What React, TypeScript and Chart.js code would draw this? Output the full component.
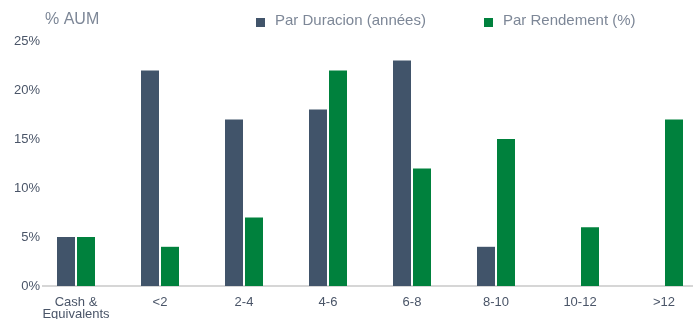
import React, { useEffect, useRef } from "react";
import { Chart, registerables } from "chart.js";

Chart.register(...registerables);

const categories: (string | string[])[] = [["Cash &", "Equivalents"], "<2", "2-4", "4-6", "6-8", "8-10", "10-12", ">12"];
const seriesNames = ["Par Duracion (années)", "Par Rendement (%)"];
const durationValues = [5, 22, 17, 18, 23, 4, 0, 0];
const yieldValues = [5, 4, 7, 22, 12, 15, 6, 17];
const yTickValues = [0, 5, 10, 15, 20, 25];
const axisTitle = "% AUM";
const seriesColors = ["#41546a", "#00813d"];

const FONT = "'Liberation Sans', Arial, Helvetica, sans-serif";
const TICK_COLOR = "#4a5568";
const LABEL_COLOR = "#7d8797";

const overlayPlugin = {
  id: "overlay",
  beforeDatasetsDraw(chart: any) {
    const ctx = chart.ctx;
    const y0 = chart.scales.y.getPixelForValue(0);
    ctx.save();
    ctx.strokeStyle = "#d6d6d6";
    ctx.lineWidth = 2;
    ctx.beginPath();
    ctx.moveTo(42, y0);
    ctx.lineTo(chart.width, y0);
    ctx.stroke();
    ctx.restore();
  },
  afterDraw(chart: any) {
    const ctx = chart.ctx;
    ctx.save();
    ctx.textBaseline = "middle";
    ctx.textAlign = "left";
    ctx.fillStyle = LABEL_COLOR;
    ctx.font = `16px ${FONT}`;
    ctx.fillText(axisTitle, 45, 20);
    const legendX = [256, 484];
    chart.data.datasets.forEach((ds: any, i: number) => {
      ctx.fillStyle = ds.backgroundColor;
      ctx.fillRect(legendX[i], 18, 9, 9);
      ctx.fillStyle = LABEL_COLOR;
      ctx.font = `15px ${FONT}`;
      ctx.fillText(ds.label, legendX[i] + 19, 21);
    });
    ctx.restore();
  },
};

export default function App() {
  const ref = useRef<HTMLCanvasElement | null>(null);
  useEffect(() => {
    if (!ref.current) return;
    const chart = new Chart(ref.current, {
      type: "bar",
      data: {
        labels: categories,
        datasets: [
          {
            label: seriesNames[0],
            data: durationValues,
            backgroundColor: seriesColors[0],
            categoryPercentage: 40 / 84,
            barPercentage: 0.9,
          },
          {
            label: seriesNames[1],
            data: yieldValues,
            backgroundColor: seriesColors[1],
            categoryPercentage: 40 / 84,
            barPercentage: 0.9,
          },
        ],
      },
      options: {
        responsive: false,
        animation: false,
        devicePixelRatio: 1,
        layout: { padding: { top: 41, right: 4, bottom: 0, left: 0 } },
        plugins: {
          legend: { display: false },
          tooltip: { enabled: false },
        },
        scales: {
          x: {
            afterFit: (scale: any) => {
              scale.height = 33;
            },
            grid: { display: false, drawTicks: false },
            border: { display: false },
            ticks: {
              color: TICK_COLOR,
              font: { family: FONT, size: 13, lineHeight: 0.92 },
              padding: 10,
              maxRotation: 0,
              autoSkip: false,
            },
          },
          y: {
            min: 0,
            max: 25,
            afterFit: (scale: any) => {
              scale.width = 34;
            },
            afterBuildTicks: (scale: any) => {
              scale.ticks = yTickValues.map((v) => ({ value: v }));
            },
            grid: { display: false, drawTicks: false },
            border: { display: false },
            ticks: {
              color: TICK_COLOR,
              font: { family: FONT, size: 13 },
              mirror: true,
              crossAlign: "far",
              padding: -20,
              callback: (v: any) => `${v}%`,
            },
          },
        },
      },
      plugins: [overlayPlugin],
    });
    return () => chart.destroy();
  }, []);
  return (
    <div style={{ position: "fixed", left: 0, top: 0, width: 693, height: 319, overflow: "hidden", background: "#fff" }}>
      <canvas ref={ref} width={710} height={319} style={{ display: "block" }} />
    </div>
  );
}
